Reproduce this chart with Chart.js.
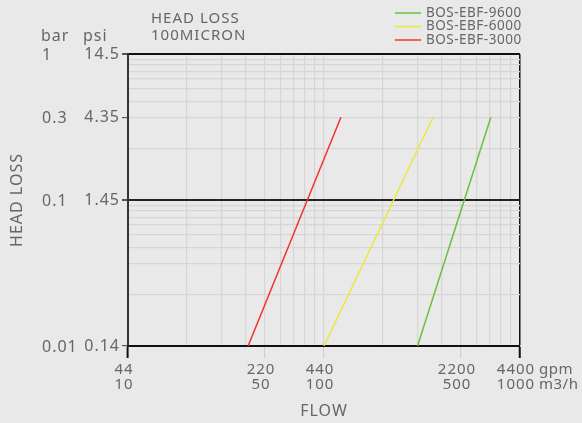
<!DOCTYPE html>
<html>
<head>
<meta charset="utf-8">
<script src="https://cdn.jsdelivr.net/npm/chart.js@4.4.1/dist/chart.umd.min.js"></script>
<style>
  html, body { margin: 0; padding: 0; background: #e9e9e9; }
  canvas { display: block; }
</style>
</head>
<body>
<canvas id="chart" width="582" height="423"></canvas>
<script>
// Data (flow in m3/h, head loss in bar)
const models = ["BOS-EBF-9600", "BOS-EBF-6000", "BOS-EBF-3000"];
const colors = ["#6cbf3c", "#ece83a", "#f53030"];
const flow9600 = [300, 710];
const flow6000 = [100, 360];
const flow3000 = [41, 122];
const headLoss = [0.01, 0.3];

// Tick labels
const barTicks = [1, 0.3, 0.1, 0.01];
const psiLabels = ["14.5", "4.35", "1.45", "0.14"];
const m3hTicks = [10, 50, 100, 500, 1000];
const gpmLabels = ["44", "220", "440", "2200", "4400"];

// The y axis of the original is not a clean log scale inside each decade,
// so the position of each mantissa (1..10) within a decade is taken from the grid.
const decadePos = [0, 0.354, 0.567, 0.676, 0.76, 0.829, 0.88, 0.929, 0.963, 1];

function warpLog(v) {
  const e = Math.floor(Math.log10(v) + 1e-9);
  const m = v / Math.pow(10, e);
  const i = Math.min(Math.floor(m + 1e-9), 9);
  const lo = decadePos[i - 1], hi = decadePos[i];
  const t = (Math.log10(m) - Math.log10(i)) / (Math.log10(i + 1) - Math.log10(i));
  return e + lo + (hi - lo) * t;
}

class WarpLogScale extends Chart.LogarithmicScale {
  getPixelForValue(value) {
    if (value === undefined || value === 0) value = this.min;
    if (value === null || isNaN(value)) return NaN;
    return this.getPixelForDecimal((warpLog(value) - this._startValue) / this._valueRange);
  }
}
WarpLogScale.id = "warpLog";
WarpLogScale.defaults = Chart.LogarithmicScale.defaults;
Chart.register(WarpLogScale);

const round = v => Number(v.toPrecision(6));
const yGrid = [];
for (let e = -2; e < 0; e++) for (let m = 1; m < 10; m++) yGrid.push(round(m * Math.pow(10, e)));
yGrid.push(1);
const xGrid = [];
for (let e = 1; e < 3; e++) for (let m = 1; m < 10; m++) xGrid.push(round(m * Math.pow(10, e)));
xGrid.push(1000);

const flows = [flow9600, flow6000, flow3000];
const datasets = models.map((name, i) => ({
  label: name,
  data: flows[i].map((f, j) => ({ x: f, y: headLoss[j] })),
  borderColor: colors[i],
  backgroundColor: colors[i],
  borderWidth: 1.5,
  pointRadius: 0,
  showLine: true
}));

Chart.defaults.font.family = "'Noto Sans', sans-serif";
Chart.defaults.color = "#666";

// the original lettering is spaced out a little
const spacing = {
  id: "spacing",
  beforeUpdate(chart) { chart.ctx.letterSpacing = "1px"; },
  beforeDraw(chart) { chart.ctx.letterSpacing = "1px"; }
};

const textPlugin = {
  id: "texts",
  afterDraw(chart) {
    const ctx = chart.ctx;
    const y = chart.scales.y;
    ctx.save();
    ctx.fillStyle = "#666";
    ctx.textAlign = "left";
    ctx.textBaseline = "alphabetic";
    ctx.font = "15px 'Noto Sans', sans-serif";
    ctx.fillText("HEAD LOSS", 151, 23);
    ctx.fillText("100MICRON", 151, 40);
    ctx.font = "16px 'Noto Sans', sans-serif";
    ctx.fillText("bar", 41, 41);
    ctx.fillText("psi", 83, 41);
    ctx.textBaseline = "middle";
    barTicks.forEach(v => ctx.fillText(String(v), 42, y.getPixelForValue(v) + 1));
    ctx.font = "15px 'Noto Sans', sans-serif";
    ctx.letterSpacing = "0.5px";
    ctx.fillText("gpm", 539, 370);
    ctx.fillText("m3/h", 539, 385);
    // legend
    ctx.font = "13.5px 'Noto Sans', sans-serif";
    chart.data.datasets.forEach((ds, i) => {
      const ly = 13 + i * 13.5;
      ctx.strokeStyle = ds.borderColor;
      ctx.lineWidth = 1.5;
      ctx.beginPath();
      ctx.moveTo(395, ly);
      ctx.lineTo(421, ly);
      ctx.stroke();
      ctx.fillText(ds.label, 426, ly);
    });
    ctx.restore();
  }
};

new Chart(document.getElementById("chart"), {
  type: "scatter",
  data: { datasets },
  options: {
    responsive: false,
    animation: false,
    devicePixelRatio: 1,
    layout: { padding: { top: 54, right: 62, left: 0, bottom: 0 } },
    plugins: { legend: { display: false }, tooltip: { enabled: false } },
    scales: {
      x: {
        type: "logarithmic",
        min: 10,
        max: 1000,
        afterBuildTicks: s => { s.ticks = xGrid.map(v => ({ value: v })); },
        afterFit: s => { s.height = 77; },
        ticks: {
          autoSkip: false,
          maxRotation: 0,
          padding: 5,
          labelOffset: -4,
          color: "#666",
          font: { size: 15, lineHeight: 0.96 },
          callback: v => {
            const i = m3hTicks.indexOf(v);
            return i < 0 ? "" : [gpmLabels[i], String(m3hTicks[i])];
          }
        },
        grid: {
          color: c => (c.tick && c.tick.value === 1000 ? "#111" : "#d6d6d6"),
          lineWidth: c => (c.tick && c.tick.value === 1000 ? 1.5 : 1.2),
          tickLength: 12,
          tickColor: c => {
            const v = c.tick && c.tick.value;
            if (v === 10 || v === 1000) return "#111";
            return m3hTicks.includes(v) ? "#cfcfcf" : "rgba(0,0,0,0)";
          },
          tickWidth: c => (c.tick && (c.tick.value === 10 || c.tick.value === 1000) ? 2 : 1.2)
        },
        border: { color: "#111", width: 2 },
        title: {
          display: true,
          text: "FLOW",
          color: "#666",
          font: { size: 16 },
          padding: { top: 0, bottom: 2 }
        }
      },
      y: {
        type: "warpLog",
        min: 0.01,
        max: 1,
        afterBuildTicks: s => { s.ticks = yGrid.map(v => ({ value: v })); },
        afterFit: s => { s.width = 128; },
        ticks: {
          autoSkip: false,
          padding: 2,
          color: "#666",
          font: { size: 16 },
          callback: v => {
            const i = barTicks.indexOf(v);
            return i < 0 ? "" : psiLabels[i];
          }
        },
        grid: {
          color: c => {
            const v = c.tick && c.tick.value;
            if (v === 1) return "#111";
            if (v === 0.1) return "#222";
            return "#d6d6d6";
          },
          lineWidth: c => {
            const v = c.tick && c.tick.value;
            return v === 1 || v === 0.1 ? 2 : 1.2;
          },
          tickLength: 6,
          tickColor: c => (c.tick && barTicks.includes(c.tick.value) ? "#555" : "rgba(0,0,0,0)")
        },
        border: { color: "#333", width: 2 },
        title: {
          display: true,
          text: "HEAD LOSS",
          color: "#666",
          font: { size: 16 },
          padding: { top: 8, bottom: 0 }
        }
      }
    }
  },
  plugins: [spacing, textPlugin]
});
</script>
</body>
</html>
